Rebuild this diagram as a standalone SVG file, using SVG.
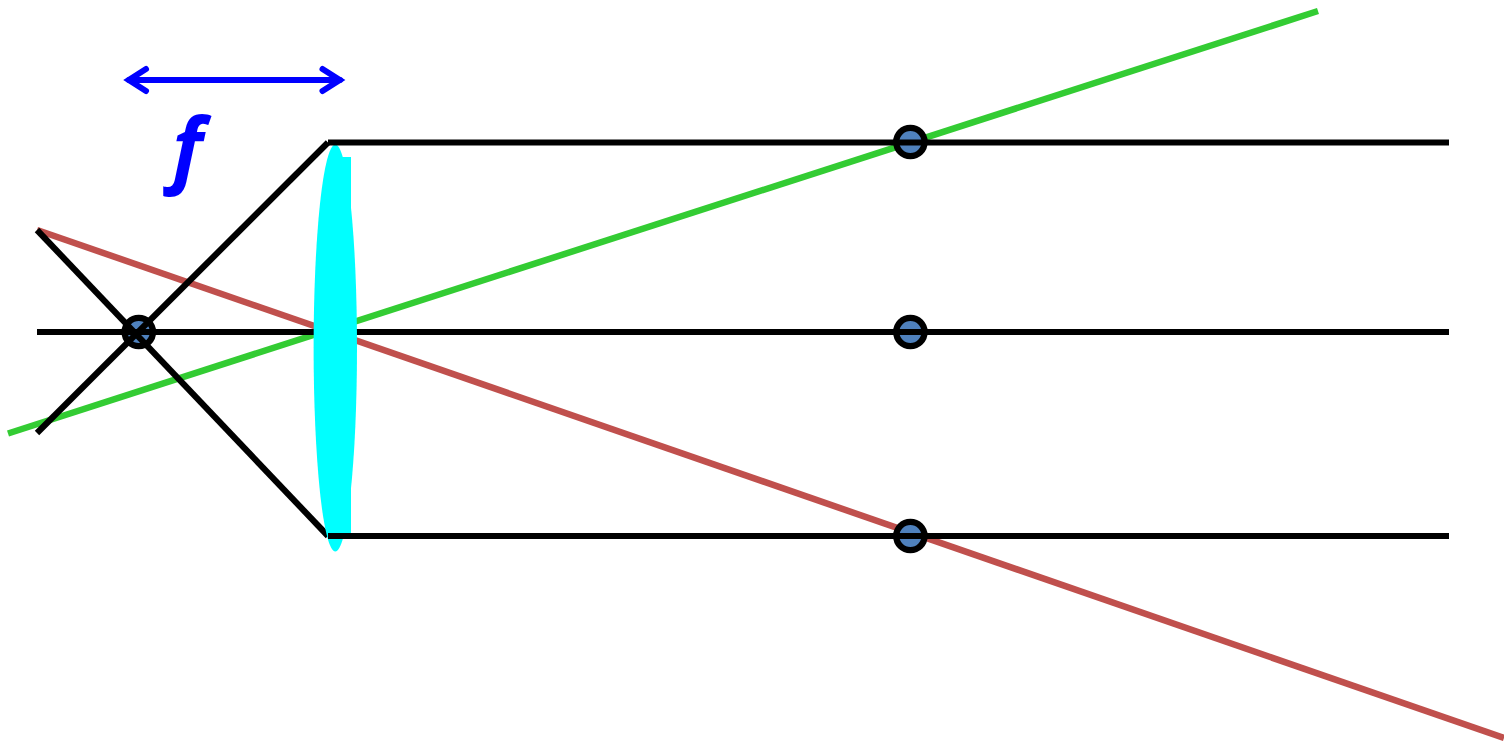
<svg xmlns="http://www.w3.org/2000/svg" width="1504" height="743" viewBox="0 0 1504 743">
<style>
.ray{fill:none;stroke:#000;stroke-width:6.200}
.dot{fill:#4f81bd;stroke:#000;stroke-width:6.300}
.lens{fill:#0ff}
</style>
<rect width="1504" height="743" fill="#fff"/>
<g id="connectors">
<line id="ray-green" x1="8" y1="433.500" x2="1318" y2="11" stroke="#33cc33" stroke-width="6.500"/>
<line id="ray-red" x1="37" y1="230" x2="1504" y2="738" stroke="#c0504d" stroke-width="6.500"/>
</g>
<g id="point-focus"><circle class="dot" cx="138.800" cy="332" r="14.200"/></g>
<g id="point-top"><circle class="dot" cx="910.400" cy="142" r="14.200"/></g>
<g id="point-middle"><circle class="dot" cx="910.400" cy="332" r="14.200"/></g>
<g id="point-bottom"><circle class="dot" cx="910.400" cy="536" r="14.200"/></g>
<g id="axis-rays">
<line class="ray" x1="37" y1="332" x2="1449" y2="332"/>
<line class="ray" x1="37" y1="433" x2="328" y2="142.500"/>
<line class="ray" x1="37" y1="230" x2="328" y2="536"/>
</g>
<g id="lens">
<ellipse class="lens" cx="335.300" cy="348" rx="21.700" ry="203.500"/>
<rect class="lens" x="335" y="157" width="16" height="379"/>
</g>
<g id="parallel-rays">
<line class="ray" x1="328" y1="142.500" x2="1449" y2="142.500"/>
<line class="ray" x1="328" y1="536" x2="1449" y2="536"/>
</g>
<g id="focal-arrow" fill="none" stroke="#0000ff" stroke-width="6" stroke-linecap="round" stroke-linejoin="miter" stroke-miterlimit="8">
<line x1="129" y1="80" x2="340" y2="80"/>
<polyline points="146,69 128.800,80 146,91"/>
<polyline points="322.500,69 339.800,80 322.500,91"/>
</g>
<g id="focal-label"><text x="172" y="177" font-family="'Open Sans',sans-serif" font-size="82" font-weight="700" font-style="italic" fill="#0000ff">f</text></g>
</svg>
